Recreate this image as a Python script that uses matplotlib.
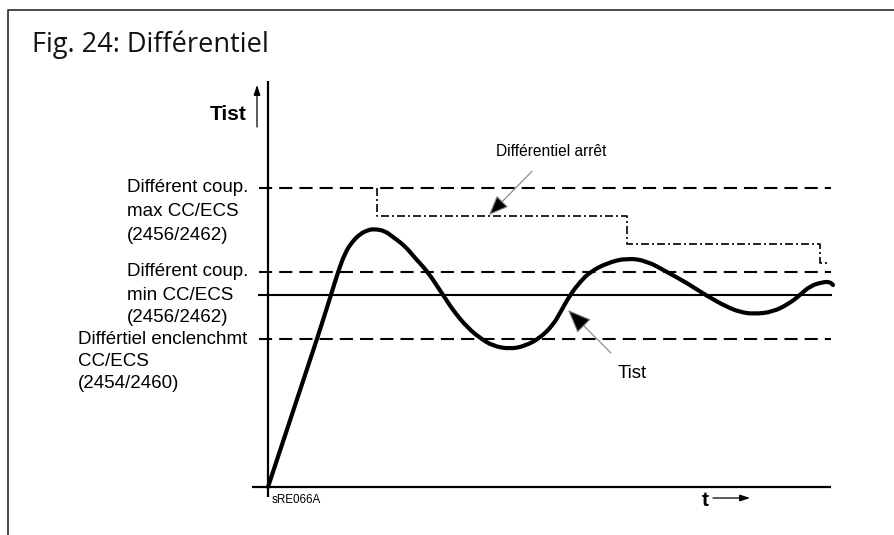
import matplotlib
matplotlib.use("Agg")
import matplotlib.pyplot as plt
from matplotlib.lines import Line2D
from matplotlib.path import Path
from matplotlib.patches import PathPatch

# Switching thresholds (Tist units, origin at the axes crossing)
LEVEL_MAX = 299      # Différent coup. max
LEVEL_MIN = 215      # Différent coup. min
SETPOINT = 192       # consigne
LEVEL_ON = 148       # Différentiel enclenchement

# Measured temperature curve Tist(t)
tist_t = [0, 39, 49, 63, 70, 77, 84, 92, 100, 107, 117, 125, 137, 147, 160,
          175, 187, 200, 212, 225, 242, 257, 272, 285, 292, 302, 312, 322,
          339, 359, 379, 399, 419, 439, 459, 472, 485, 505, 522, 532, 542,
          555, 562, 565]
tist_v = [0, 118, 148, 192, 215, 234, 245, 253, 257, 258, 256, 250, 241, 229,
          215, 192, 174, 159, 149, 141, 138, 141, 149, 162, 174, 192, 205, 215,
          224, 229, 226, 215, 204, 191, 180, 175, 173, 175, 184, 192, 201,
          205, 205, 202]

# "Différentiel arrêt" step: switch times and the level after each switch
stop_start = (109, LEVEL_MAX)
stop_switch_t = [109, 359, 552]
stop_levels = [271, 243, 224]
stop_end_t = 559

label_blocks = [
    (["Différent coup.", "max CC/ECS", "(2456/2462)"], -141, [299, 275, 251]),
    (["Différent coup.", "min CC/ECS", "(2456/2462)"], -141, [215, 192, 169]),
    (["Différtiel enclenchmt", "CC/ECS", "(2454/2460)"], -190, [148, 125, 103]),
]


def smooth_path(xs, ys):
    """Quadratic Bezier through the midpoints, points act as controls."""
    pts = list(zip(xs, ys))
    verts = [pts[0]]
    codes = [Path.MOVETO]
    for i in range(1, len(pts) - 1):
        mid = ((pts[i][0] + pts[i + 1][0]) / 2, (pts[i][1] + pts[i + 1][1]) / 2)
        verts += [pts[i], mid]
        codes += [Path.CURVE3, Path.CURVE3]
    verts.append(pts[-1])
    codes.append(Path.LINETO)
    return Path(verts, codes)


W, H = 895, 535
fig = plt.figure(figsize=(W / 100, H / 100), dpi=100)
ax = fig.add_axes([0, 0, 1, 1])
ax.set_xlim(-268, W - 268)
ax.set_ylim(-48, 487)
ax.axis("off")

# frame around the figure (left and top only)
fig.add_artist(Line2D([8 / W, 8 / W, 1], [0, 1 - 10 / H, 1 - 10 / H],
                      color="#2a2a2a", lw=1.2, transform=fig.transFigure))
fig.text(32 / W, 1 - 45 / H, "Fig. 24: Différentiel", family="Open Sans",
         fontsize=19.5, va="center", ha="left", color="#111")

sans = "Liberation Sans"

# axes
ax.plot([-16, 563], [0, 0], color="k", lw=1.6, solid_capstyle="butt")
ax.plot([0, 0], [-10, 406], color="k", lw=1.6, solid_capstyle="butt")

# threshold lines
x0, x1 = -9, 563
for lvl in (LEVEL_MAX, LEVEL_MIN, LEVEL_ON):
    ax.plot([x0, x1], [lvl, lvl], color="k", lw=1.5, dashes=(6.3, 3.4))
ax.plot([x0, x1], [SETPOINT, SETPOINT], color="k", lw=1.5)

# stop differential step line
st = [stop_start[0]]
sv = [stop_start[1]]
for i, (tt, lv) in enumerate(zip(stop_switch_t, stop_levels)):
    st += [tt]
    sv += [lv]
    nxt = stop_switch_t[i + 1] if i + 1 < len(stop_switch_t) else stop_end_t
    st += [nxt]
    sv += [lv]
ax.plot(st, sv, color="k", lw=1.2, dashes=(4.8, 1.8, 1.2, 1.8))

# Tist curve
ax.add_patch(PathPatch(smooth_path(tist_t, tist_v), fill=False, ec="k",
                       lw=3, joinstyle="round", capstyle="round"))

# left labels
for lines, lx, ys in label_blocks:
    for txt, ly in zip(lines, ys):
        ax.text(lx, ly, txt, family=sans, fontsize=13.5, ha="left", va="center")

# axis titles
ax.text(-21, 373, "Tist", family=sans, fontsize=15, fontweight="bold",
        ha="right", va="center")
ax.annotate("", xy=(-11, 402), xytext=(-11, 360),
            arrowprops=dict(arrowstyle="-|>,head_length=0.6,head_width=0.2",
                            color="k", lw=0.9, shrinkA=0, shrinkB=0))
ax.text(437, -13, "t", family=sans, fontsize=15, fontweight="bold",
        ha="center", va="center")
ax.annotate("", xy=(482, -11), xytext=(445, -11),
            arrowprops=dict(arrowstyle="-|>,head_length=0.6,head_width=0.2",
                            color="k", lw=0.9, shrinkA=0, shrinkB=0))
ax.text(4, -13, "sRE066A", family=sans, fontsize=8.4, ha="left", va="center")

# callouts
ax.annotate("Différentiel arrêt", xy=(221, 272), xytext=(283, 335),
            family=sans, fontsize=11.2, ha="center", va="center",
            arrowprops=dict(arrowstyle="-|>,head_length=1.1,head_width=0.45",
                            ec="#808080", fc="k", lw=0.8,
                            shrinkA=9, shrinkB=0))
ax.annotate("Tist", xy=(300, 177), xytext=(364, 113),
            family=sans, fontsize=13.5, ha="center", va="center",
            arrowprops=dict(arrowstyle="-|>,head_length=1.1,head_width=0.45",
                            ec="#808080", fc="k", lw=0.8,
                            shrinkA=10, shrinkB=0))

fig.savefig("out.png", dpi=100)
